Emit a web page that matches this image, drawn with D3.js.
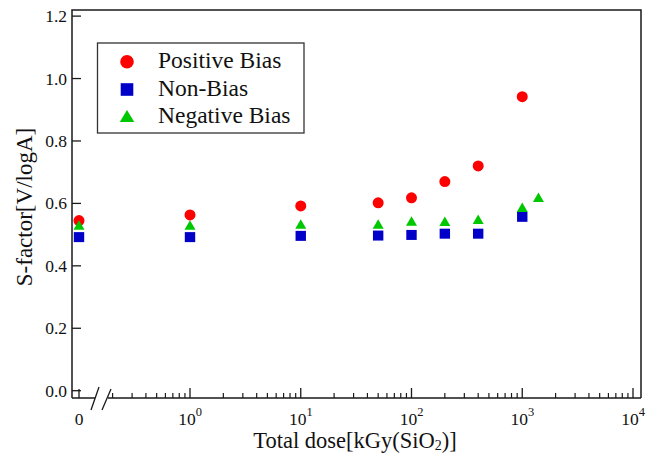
<!DOCTYPE html>
<html>
<head>
<meta charset="utf-8">
<script src="https://cdn.jsdelivr.net/npm/d3@7"></script>
<style>
  html, body { margin: 0; padding: 0; background: #fff; }
  svg { display: block; font-family: "Liberation Serif", "Times New Roman", serif; }
</style>
</head>
<body>
<svg id="chart" width="655" height="454"></svg>
<script>
// Total dose [kGy(SiO2)]; 0 is drawn on the left of the axis break
const dosesPositive = [0, 1, 10, 50, 100, 200, 400, 1000];
const positiveBias  = [0.545, 0.563, 0.592, 0.602, 0.618, 0.670, 0.720, 0.942];

const dosesNon = [0, 1, 10, 50, 100, 200, 400, 1000];
const nonBias  = [0.492, 0.492, 0.496, 0.497, 0.499, 0.503, 0.503, 0.557];

const dosesNegative = [0, 1, 10, 50, 100, 200, 400, 1000, 1400];
const negativeBias  = [0.531, 0.531, 0.534, 0.534, 0.544, 0.543, 0.549, 0.588, 0.620];

const yTicks = [0, 0.2, 0.4, 0.6, 0.8, 1.0, 1.2];
const xMajorTicks = [1, 10, 100, 1000, 10000];
const xTickExponents = ["0", "1", "2", "3", "4"];
const seriesNames = ["Positive Bias", "Non-Bias", "Negative Bias"];

const svg = d3.select("#chart");
const frame = { left: 72, right: 641, top: 10, bottom: 398 };

// Log section of the x axis and the small linear section holding the zero dose
const xLog = d3.scaleLog().domain([1, 10000]).range([190, 633]);
const xZero = d3.scaleLinear().domain([-1, 1]).range([72, 86]);
const x = v => (v === 0 ? xZero(0) : xLog(v));

const y = d3.scaleLinear().domain([-0.0234, 1.2196]).range([frame.bottom, frame.top]);

const axisColor = "#1a1a1a";

// Frame: left, top, right
svg.append("path")
  .attr("d", `M${frame.left},${frame.bottom}V${frame.top}H${frame.right}V${frame.bottom}`)
  .attr("fill", "none").attr("stroke", axisColor).attr("stroke-width", 1.5);

// Bottom axis line with a break
const breakA = 95, breakB = 108;
svg.append("path")
  .attr("d", `M${frame.left},${frame.bottom}H${breakA}M${breakB},${frame.bottom}H${frame.right}`)
  .attr("fill", "none").attr("stroke", axisColor).attr("stroke-width", 1.5);
svg.append("path")
  .attr("d", `M${breakA - 4},${frame.bottom + 12}L${breakA + 4},${frame.bottom - 11}` +
             `M${breakB - 6},${frame.bottom + 12}L${breakB + 3},${frame.bottom - 9}`)
  .attr("fill", "none").attr("stroke", axisColor).attr("stroke-width", 1.3);

// Y ticks (inward) and labels
const yAxisG = svg.append("g");
yTicks.forEach(t => {
  yAxisG.append("line")
    .attr("x1", frame.left).attr("x2", frame.left + 9)
    .attr("y1", y(t)).attr("y2", y(t))
    .attr("stroke", axisColor).attr("stroke-width", 1.3);
  yAxisG.append("text")
    .attr("x", frame.left - 5).attr("y", y(t) + 6)
    .attr("text-anchor", "end").attr("font-size", 17.5).attr("fill", "#111")
    .text(d3.format(".1f")(t));
});

// X ticks (inward): zero, decades and minor ticks
const xAxisG = svg.append("g");
xAxisG.append("line")
  .attr("x1", x(0)).attr("x2", x(0))
  .attr("y1", frame.bottom).attr("y2", frame.bottom - 9)
  .attr("stroke", axisColor).attr("stroke-width", 1.3);
xMajorTicks.forEach(t => {
  xAxisG.append("line")
    .attr("x1", xLog(t)).attr("x2", xLog(t))
    .attr("y1", frame.bottom).attr("y2", frame.bottom - 10)
    .attr("stroke", axisColor).attr("stroke-width", 1.3);
});
const minorTicks = [];
[0.1, 1, 10, 100, 1000].forEach(dec => {
  for (let m = 2; m <= 9; m++) minorTicks.push(dec * m);
});
minorTicks.forEach(t => {
  xAxisG.append("line")
    .attr("x1", xLog(t)).attr("x2", xLog(t))
    .attr("y1", frame.bottom).attr("y2", frame.bottom - 5)
    .attr("stroke", axisColor).attr("stroke-width", 1.2);
});

// X tick labels
xAxisG.append("text")
  .attr("x", x(0)).attr("y", 425)
  .attr("text-anchor", "middle").attr("font-size", 17.5).attr("fill", "#111")
  .text("0");
xMajorTicks.forEach((t, i) => {
  const lbl = xAxisG.append("text")
    .attr("x", xLog(t)).attr("y", 425)
    .attr("text-anchor", "middle").attr("font-size", 17.5).attr("fill", "#111");
  lbl.append("tspan").text("10");
  lbl.append("tspan").attr("dy", -9).attr("font-size", 12.5).text(xTickExponents[i]);
});

// Axis titles
const xTitle = svg.append("text")
  .attr("x", 355).attr("y", 447.5)
  .attr("text-anchor", "middle").attr("font-size", 22.5).attr("fill", "#111");
xTitle.append("tspan").text("Total dose[kGy(SiO");
xTitle.append("tspan").attr("font-size", 14).attr("dy", 2).text("2");
xTitle.append("tspan").attr("dy", -2).text(")]");

svg.append("text")
  .attr("transform", `translate(32,${(frame.top + frame.bottom) / 2 + 3}) rotate(-90)`)
  .attr("text-anchor", "middle").attr("font-size", 23).attr("fill", "#111")
  .text("S-factor[V/logA]");

// Markers
const red = "#ff0000", blue = "#0000c8", green = "#00c800";
const plot = svg.append("g");

plot.selectAll("circle.pos")
  .data(dosesPositive.map((d, i) => [d, positiveBias[i]]))
  .join("circle").attr("class", "pos")
  .attr("cx", d => x(d[0])).attr("cy", d => y(d[1]))
  .attr("r", 5.5).attr("fill", red);

plot.selectAll("rect.non")
  .data(dosesNon.map((d, i) => [d, nonBias[i]]))
  .join("rect").attr("class", "non")
  .attr("x", d => x(d[0]) - 5.2).attr("y", d => y(d[1]) - 5)
  .attr("width", 10.4).attr("height", 10).attr("fill", blue);

const tri = (w, h) => `M0,${-h / 2}L${w / 2},${h / 2}L${-w / 2},${h / 2}Z`;
plot.selectAll("path.neg")
  .data(dosesNegative.map((d, i) => [d, negativeBias[i]]))
  .join("path").attr("class", "neg")
  .attr("transform", d => `translate(${x(d[0])},${y(d[1])})`)
  .attr("d", tri(11, 9.5)).attr("fill", green);

// Legend
const legend = svg.append("g");
legend.append("rect")
  .attr("x", 97.5).attr("y", 43).attr("width", 206.5).attr("height", 90)
  .attr("fill", "#fff").attr("stroke", "#333").attr("stroke-width", 1.3);
const rowsY = [61.7, 89.5, 116];
const symX = 127;
legend.append("circle").attr("cx", symX).attr("cy", rowsY[0]).attr("r", 6.8).attr("fill", red);
legend.append("rect").attr("x", symX - 6.3).attr("y", rowsY[1] - 6.3)
  .attr("width", 12.6).attr("height", 12.6).attr("fill", blue);
legend.append("path").attr("transform", `translate(${symX},${rowsY[2]})`)
  .attr("d", tri(14.5, 12)).attr("fill", green);
seriesNames.forEach((name, i) => {
  legend.append("text")
    .attr("x", 158).attr("y", rowsY[i] + 6.5)
    .attr("font-size", 23.5).attr("fill", "#111")
    .text(name);
});
</script>
</body>
</html>
